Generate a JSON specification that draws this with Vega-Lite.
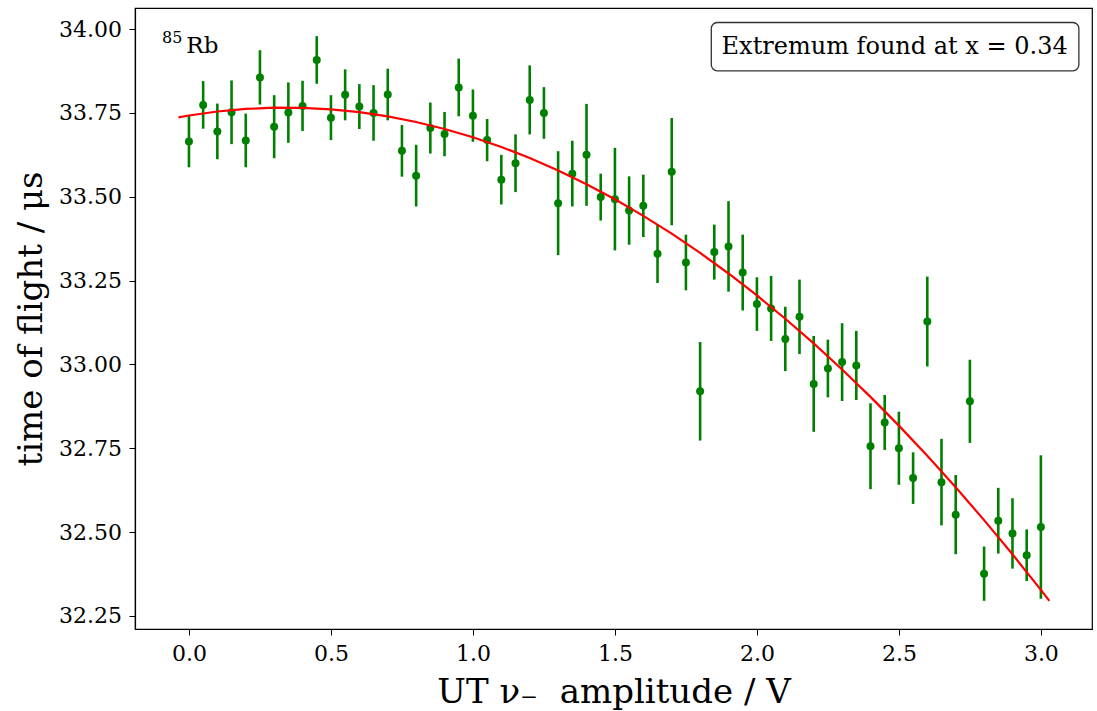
{
  "$schema": "https://vega.github.io/schema/vega-lite/v6.json",
  "width": 957,
  "height": 621,
  "autosize": "none",
  "padding": {"left": 135, "top": 8, "right": 5, "bottom": 82},
  "background": "white",
  "config": {
    "font": "DejaVu Serif",
    "view": {"stroke": "black", "strokeWidth": 1.2},
    "axis": {
      "grid": false,
      "labelFont": "DejaVu Serif",
      "labelFontSize": 22,
      "labelColor": "black",
      "tickColor": "black",
      "tickSize": 6,
      "tickWidth": 1,
      "domainColor": "black",
      "domainWidth": 1.2,
      "titleFont": "DejaVu Serif",
      "titleFontSize": 34,
      "titleFontWeight": "normal",
      "titleColor": "black"
    }
  },
  "datasets": {
    "meas": [
      {"x": 0.00, "y": 33.665, "err": 0.077},
      {"x": 0.05, "y": 33.774, "err": 0.071},
      {"x": 0.10, "y": 33.695, "err": 0.083},
      {"x": 0.15, "y": 33.752, "err": 0.095},
      {"x": 0.20, "y": 33.668, "err": 0.080},
      {"x": 0.25, "y": 33.856, "err": 0.081},
      {"x": 0.30, "y": 33.709, "err": 0.094},
      {"x": 0.35, "y": 33.751, "err": 0.090},
      {"x": 0.40, "y": 33.771, "err": 0.075},
      {"x": 0.45, "y": 33.908, "err": 0.071},
      {"x": 0.50, "y": 33.736, "err": 0.067},
      {"x": 0.55, "y": 33.804, "err": 0.076},
      {"x": 0.60, "y": 33.769, "err": 0.067},
      {"x": 0.65, "y": 33.750, "err": 0.083},
      {"x": 0.70, "y": 33.805, "err": 0.077},
      {"x": 0.75, "y": 33.637, "err": 0.077},
      {"x": 0.80, "y": 33.563, "err": 0.092},
      {"x": 0.85, "y": 33.705, "err": 0.076},
      {"x": 0.90, "y": 33.687, "err": 0.066},
      {"x": 0.95, "y": 33.826, "err": 0.086},
      {"x": 1.00, "y": 33.742, "err": 0.078},
      {"x": 1.05, "y": 33.669, "err": 0.063},
      {"x": 1.10, "y": 33.551, "err": 0.074},
      {"x": 1.15, "y": 33.600, "err": 0.086},
      {"x": 1.20, "y": 33.789, "err": 0.103},
      {"x": 1.25, "y": 33.750, "err": 0.077},
      {"x": 1.30, "y": 33.481, "err": 0.155},
      {"x": 1.35, "y": 33.569, "err": 0.098},
      {"x": 1.40, "y": 33.625, "err": 0.152},
      {"x": 1.45, "y": 33.499, "err": 0.070},
      {"x": 1.50, "y": 33.493, "err": 0.153},
      {"x": 1.55, "y": 33.459, "err": 0.102},
      {"x": 1.60, "y": 33.473, "err": 0.093},
      {"x": 1.65, "y": 33.330, "err": 0.087},
      {"x": 1.70, "y": 33.575, "err": 0.160},
      {"x": 1.75, "y": 33.304, "err": 0.083},
      {"x": 1.80, "y": 32.920, "err": 0.147},
      {"x": 1.85, "y": 33.335, "err": 0.082},
      {"x": 1.90, "y": 33.352, "err": 0.135},
      {"x": 1.95, "y": 33.274, "err": 0.113},
      {"x": 2.00, "y": 33.180, "err": 0.080},
      {"x": 2.05, "y": 33.167, "err": 0.097},
      {"x": 2.10, "y": 33.076, "err": 0.096},
      {"x": 2.15, "y": 33.142, "err": 0.111},
      {"x": 2.20, "y": 32.942, "err": 0.143},
      {"x": 2.25, "y": 32.988, "err": 0.086},
      {"x": 2.30, "y": 33.007, "err": 0.116},
      {"x": 2.35, "y": 32.997, "err": 0.103},
      {"x": 2.40, "y": 32.756, "err": 0.128},
      {"x": 2.45, "y": 32.827, "err": 0.082},
      {"x": 2.50, "y": 32.750, "err": 0.109},
      {"x": 2.55, "y": 32.661, "err": 0.077},
      {"x": 2.60, "y": 33.128, "err": 0.134},
      {"x": 2.65, "y": 32.649, "err": 0.129},
      {"x": 2.70, "y": 32.552, "err": 0.118},
      {"x": 2.75, "y": 32.890, "err": 0.124},
      {"x": 2.80, "y": 32.376, "err": 0.081},
      {"x": 2.85, "y": 32.534, "err": 0.098},
      {"x": 2.90, "y": 32.496, "err": 0.105},
      {"x": 2.95, "y": 32.431, "err": 0.077},
      {"x": 3.00, "y": 32.515, "err": 0.214}
    ],
    "fit": [
      {"x": -0.037, "y": 33.737},
      {"x": 0.0, "y": 33.7425},
      {"x": 0.1, "y": 33.7543},
      {"x": 0.2, "y": 33.7620},
      {"x": 0.3, "y": 33.7657},
      {"x": 0.4, "y": 33.7653},
      {"x": 0.5, "y": 33.7608},
      {"x": 0.6, "y": 33.7523},
      {"x": 0.7, "y": 33.7397},
      {"x": 0.8, "y": 33.7230},
      {"x": 0.9, "y": 33.7022},
      {"x": 1.0, "y": 33.6774},
      {"x": 1.1, "y": 33.6486},
      {"x": 1.2, "y": 33.6156},
      {"x": 1.3, "y": 33.5786},
      {"x": 1.4, "y": 33.5376},
      {"x": 1.5, "y": 33.4924},
      {"x": 1.6, "y": 33.4432},
      {"x": 1.7, "y": 33.3900},
      {"x": 1.8, "y": 33.3326},
      {"x": 1.9, "y": 33.2712},
      {"x": 2.0, "y": 33.2058},
      {"x": 2.1, "y": 33.1363},
      {"x": 2.2, "y": 33.0627},
      {"x": 2.3, "y": 32.9850},
      {"x": 2.4, "y": 32.9033},
      {"x": 2.5, "y": 32.8175},
      {"x": 2.6, "y": 32.7276},
      {"x": 2.7, "y": 32.6337},
      {"x": 2.8, "y": 32.5357},
      {"x": 2.9, "y": 32.4337},
      {"x": 3.0, "y": 32.3275},
      {"x": 3.03, "y": 32.2949}
    ],
    "box": [
      {"x": 1.8394, "x2": 3.1338, "y": 34.0197, "y2": 33.8757, "label": "Extremum found at x = 0.34", "xc": 2.485, "yb": 33.926}
    ],
    "iso": [
      {"x": -0.0951, "y": 33.958, "label": "85"}
    ],
    "elem": [
      {"x": -0.0092, "y": 33.928, "label": "Rb"}
    ]
  },
  "layer": [
    {
      "data": {"name": "meas"},
      "mark": {"type": "errorbar", "color": "green", "thickness": 2.6},
      "encoding": {
        "x": {
          "field": "x", "type": "quantitative",
          "scale": {"domain": [-0.19, 3.18], "nice": false, "zero": false},
          "axis": {"title": "UT ν₋\u00a0 amplitude / V", "values": [0, 0.5, 1, 1.5, 2, 2.5, 3], "format": ".1f", "labelPadding": 8, "titlePadding": 11}
        },
        "y": {
          "field": "y", "type": "quantitative",
          "scale": {"domain": [32.211, 34.063], "nice": false, "zero": false},
          "axis": {"title": "time of flight / μs", "values": [32.25, 32.5, 32.75, 33.0, 33.25, 33.5, 33.75, 34.0], "format": ".2f", "labelPadding": 7.5, "titlePadding": 10}
        },
        "yError": {"field": "err"}
      }
    },
    {
      "data": {"name": "meas"},
      "mark": {"type": "circle", "color": "green", "size": 64, "opacity": 1},
      "encoding": {
        "x": {"field": "x", "type": "quantitative"},
        "y": {"field": "y", "type": "quantitative"}
      }
    },
    {
      "data": {"name": "fit"},
      "mark": {"type": "line", "color": "red", "strokeWidth": 2.2},
      "encoding": {
        "x": {"field": "x", "type": "quantitative"},
        "y": {"field": "y", "type": "quantitative"}
      }
    },
    {
      "data": {"name": "box"},
      "mark": {"type": "rect", "fill": "white", "stroke": "#333333", "strokeWidth": 1.3, "cornerRadius": 6},
      "encoding": {
        "x": {"field": "x", "type": "quantitative"},
        "x2": {"field": "x2"},
        "y": {"field": "y", "type": "quantitative"},
        "y2": {"field": "y2"}
      }
    },
    {
      "data": {"name": "box"},
      "mark": {"type": "text", "fontSize": 24, "align": "center", "baseline": "alphabetic", "color": "black"},
      "encoding": {
        "x": {"field": "xc", "type": "quantitative"},
        "y": {"field": "yb", "type": "quantitative"},
        "text": {"field": "label"}
      }
    },
    {
      "data": {"name": "iso"},
      "mark": {"type": "text", "fontSize": 16, "align": "left", "baseline": "alphabetic", "color": "black"},
      "encoding": {
        "x": {"field": "x", "type": "quantitative"},
        "y": {"field": "y", "type": "quantitative"},
        "text": {"field": "label"}
      }
    },
    {
      "data": {"name": "elem"},
      "mark": {"type": "text", "fontSize": 23, "align": "left", "baseline": "alphabetic", "color": "black"},
      "encoding": {
        "x": {"field": "x", "type": "quantitative"},
        "y": {"field": "y", "type": "quantitative"},
        "text": {"field": "label"}
      }
    }
  ]
}
